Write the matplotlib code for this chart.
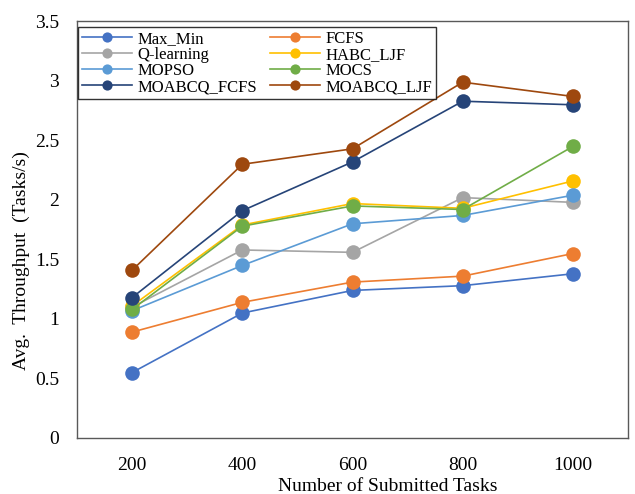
import matplotlib
matplotlib.use("Agg")
import matplotlib.pyplot as plt

plt.rcParams["font.family"] = ["Liberation Serif", "DejaVu Serif"]

tasks = ["200", "400", "600", "800", "1000"]

max_min = [0.55, 1.05, 1.24, 1.28, 1.38]
fcfs = [0.89, 1.14, 1.31, 1.36, 1.55]
q_learning = [1.10, 1.58, 1.56, 2.02, 1.98]
habc_ljf = [1.11, 1.79, 1.97, 1.93, 2.16]
mopso = [1.07, 1.45, 1.80, 1.87, 2.04]
mocs = [1.08, 1.78, 1.95, 1.92, 2.45]
moabcq_fcfs = [1.18, 1.91, 2.32, 2.83, 2.80]
moabcq_ljf = [1.41, 2.30, 2.43, 2.99, 2.87]

series = [
    ("Max_Min", max_min, "#4472C4"),
    ("FCFS", fcfs, "#ED7D31"),
    ("Q-learning", q_learning, "#A5A5A5"),
    ("HABC_LJF", habc_ljf, "#FFC000"),
    ("MOPSO", mopso, "#5B9BD5"),
    ("MOCS", mocs, "#70AD47"),
    ("MOABCQ_FCFS", moabcq_fcfs, "#264478"),
    ("MOABCQ_LJF", moabcq_ljf, "#9E480E"),
]

fig = plt.figure(figsize=(6.35, 4.94), dpi=100)
ax = fig.add_axes([0.1213, 0.1134, 0.8677, 0.8431])

x = range(len(tasks))
handles = []
for name, vals, col in series:
    h, = ax.plot(x, vals, color=col, lw=1.2, marker="o", markersize=10.5,
                 markeredgewidth=0, label=name)
    handles.append(h)

ax.set_xlim(-0.5, 4.5)
ax.set_ylim(0, 3.5)
ax.set_xticks(list(x))
ax.set_xticklabels(tasks)
ax.set_yticks([0, 0.5, 1, 1.5, 2, 2.5, 3, 3.5])
ax.set_yticklabels(["0", "0.5", "1", "1.5", "2", "2.5", "3", "3.5"])
ax.tick_params(axis="both", length=0, labelsize=14)
ax.tick_params(axis="y", pad=13)
ax.tick_params(axis="x", pad=14)
for s in ax.spines.values():
    s.set_color("#595959")
    s.set_linewidth(1.0)

ax.set_xlabel("Number of Submitted Tasks", fontsize=14)
ax.xaxis.set_label_coords(0.564, -0.097)
ax.set_ylabel("Avg.  Throughput  (Tasks/s)", fontsize=14)
ax.yaxis.set_label_coords(-0.085, 0.427)

# legend is filled row by row in the reference
order = [0, 2, 4, 6, 1, 3, 5, 7]
leg = ax.legend([handles[i] for i in order], [series[i][0] for i in order],
                ncol=2, loc="upper left", bbox_to_anchor=(0.002, 0.987),
                fontsize=12, frameon=True, fancybox=False, edgecolor="black",
                handlelength=3.0, columnspacing=0.8, labelspacing=0.0,
                borderpad=0.25, borderaxespad=0, handletextpad=0.3,
                markerscale=0.7)
leg.get_frame().set_linewidth(1.0)

fig.savefig("out.png", dpi=100)
